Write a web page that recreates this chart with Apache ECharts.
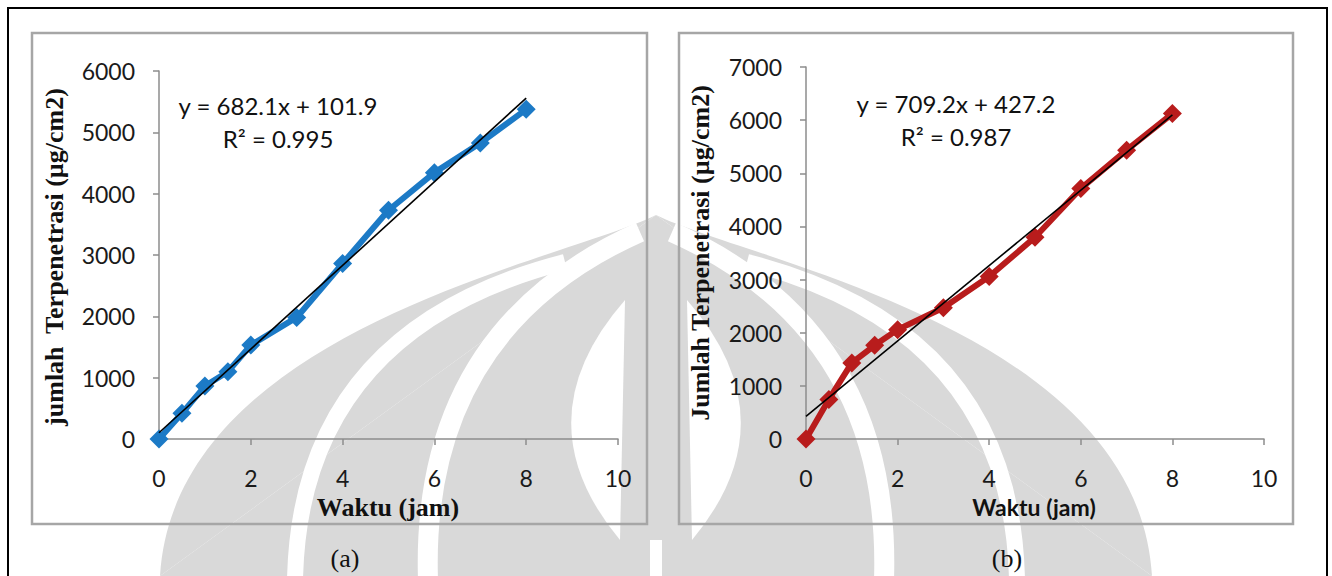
<!DOCTYPE html>
<html>
<head>
<meta charset="utf-8">
<script src="https://cdn.jsdelivr.net/npm/echarts@6/dist/echarts.min.js"></script>
<style>
  html, body { margin: 0; padding: 0; background: #fff; }
  #chart { width: 1332px; height: 576px; }
</style>
</head>
<body>
<div id="chart"></div>
<script>
// data
const waktu = [0, 0.5, 1, 1.5, 2, 3, 4, 5, 6, 7, 8];
const penetrasiA = [0, 418, 863, 1097, 1531, 1982, 2861, 3730, 4343, 4826, 5375];
const penetrasiB = [0, 744, 1432, 1764, 2058, 2470, 3058, 3796, 4715, 5435, 6123];
// trend lines (Excel linear fit shown in the chart)
const fitA = { slope: 682.1, intercept: 101.9, r2: '0.995' };
const fitB = { slope: 709.2, intercept: 427.2, r2: '0.987' };
const xMax = 10, xStep = 2;
const yMaxA = 6000, yMaxB = 7000, yStep = 1000;

const blue = '#1c7ac6';
const red = '#b81c1c';
const axisGray = '#8c8c8c';
const tickFont = 'Lato';

function pairs(xs, ys) {
  return xs.map((x, i) => [x, ys[i]]);
}
function trend(fit) {
  const x0 = waktu[0], x1 = waktu[waktu.length - 1];
  return [[x0, fit.slope * x0 + fit.intercept], [x1, fit.slope * x1 + fit.intercept]];
}

function xAxisCfg(gridIndex) {
  return {
    type: 'value', gridIndex: gridIndex, min: 0, max: xMax, interval: xStep,
    axisLine: { onZero: false, lineStyle: { color: axisGray, width: 1.5 } },
    axisTick: { show: true, length: 6, lineStyle: { color: axisGray, width: 1.5 } },
    axisLabel: { margin: 29, color: '#1a1a1a', fontFamily: tickFont, fontSize: 23, lineHeight: 20,
      formatter: v => String(v) },
    splitLine: { show: false }
  };
}
function yAxisCfg(gridIndex, max) {
  return {
    type: 'value', gridIndex: gridIndex, min: 0, max: max, interval: yStep,
    axisLine: { show: true, lineStyle: { color: axisGray, width: 1.5 } },
    axisTick: { show: true, length: 6, lineStyle: { color: axisGray, width: 1.5 } },
    axisLabel: { margin: 24, color: '#1a1a1a', fontFamily: tickFont, fontSize: 23,
      formatter: v => String(v) },
    splitLine: { show: false }
  };
}
function dataSeries(idx, values, color) {
  return {
    type: 'line', xAxisIndex: idx, yAxisIndex: idx,
    data: pairs(waktu, values),
    symbol: 'diamond', symbolSize: 19,
    lineStyle: { color: color, width: 6 },
    itemStyle: { color: color },
    z: 3
  };
}
function trendSeries(idx, fit) {
  return {
    type: 'line', xAxisIndex: idx, yAxisIndex: idx,
    data: trend(fit), symbol: 'none',
    lineStyle: { color: '#000', width: 1.6 },
    z: 4
  };
}
function txt(x, y, text, font, extra) {
  return Object.assign({
    type: 'text', x: x, y: y, z: 10,
    style: { text: text, font: font, fill: '#111', textAlign: 'center', textVerticalAlign: 'middle' }
  }, extra || {});
}
function curve(x1, y1, cx, cy, x2, y2, style) {
  return { type: 'bezierCurve', z: -9, shape: { x1: x1, y1: y1, cpx1: cx, cpy1: cy, x2: x2, y2: y2 }, style: style };
}

// faint background watermark
const wm = '#d9d9d9';
const strokeW = w => ({ fill: null, stroke: '#fff', lineWidth: w });
const watermark = [
  { type: 'polygon', z: -10, shape: { points: [[656, 215], [160, 576], [1152, 576]] }, style: { fill: wm } },
  { type: 'bezierCurve', z: -10, shape: { x1: 656, y1: 215, cpx1: 560, cpy1: 262, cpx2: 175, cpy2: 330, x2: 160, y2: 576 }, style: { fill: wm, stroke: null } },
  { type: 'bezierCurve', z: -10, shape: { x1: 656, y1: 215, cpx1: 752, cpy1: 262, cpx2: 1137, cpy2: 330, x2: 1152, y2: 576 }, style: { fill: wm, stroke: null } },
  curve(565, 262, 300, 330, 295, 580, strokeW(16)),
  curve(640, 232, 420, 330, 428, 580, strokeW(20)),
  curve(747, 262, 1012, 330, 1017, 580, strokeW(16)),
  curve(672, 232, 892, 330, 884, 580, strokeW(20)),
  curve(625, 300, 520, 420, 620, 540, { fill: '#fff', stroke: null }),
  curve(687, 300, 792, 420, 692, 540, { fill: '#fff', stroke: null }),
  { type: 'rect', z: -9, shape: { x: 650, y: 540, width: 12, height: 40 }, style: { fill: '#fff' } }
];

const frames = [
  { type: 'rect', z: 1, shape: { x: 8, y: 8, width: 1319, height: 580 }, style: { fill: null, stroke: '#000', lineWidth: 2 } },
  { type: 'rect', z: 1, shape: { x: 32, y: 33, width: 615, height: 491 }, style: { fill: null, stroke: '#a6a6a6', lineWidth: 2.5 } },
  { type: 'rect', z: 1, shape: { x: 679, y: 33, width: 614, height: 491 }, style: { fill: null, stroke: '#a6a6a6', lineWidth: 2.5 } }
];

const labels = [
  txt(278, 105, 'y = ' + fitA.slope + 'x + ' + fitA.intercept, '24px Lato'),
  txt(278, 138, 'R² = ' + fitA.r2, '24px Lato'),
  txt(956, 103, 'y = ' + fitB.slope + 'x + ' + fitB.intercept, '24px Lato'),
  txt(956, 136, 'R² = ' + fitB.r2, '24px Lato'),
  txt(54, 257, 'jumlah  Terpenetrasi (µg/cm2)', 'bold 26px "Liberation Serif"', { rotation: Math.PI / 2 }),
  txt(700, 253, 'Jumlah Terpenetrasi (µg/cm2)', 'bold 26px "Liberation Serif"', { rotation: Math.PI / 2 }),
  txt(388, 507, 'Waktu (jam)', 'bold 26px "Liberation Serif"'),
  txt(1034, 507, 'Waktu (jam)', 'bold 23px Lato'),
  txt(345, 558, '(a)', '26px "Liberation Serif"'),
  txt(1007, 558, '(b)', '26px "Liberation Serif"')
];

const myCharts = echarts.init(document.getElementById('chart'), null, { renderer: 'svg' });
const option = {
  animation: false,
  backgroundColor: '#fff',
  grid: [
    { left: 159, top: 71, width: 459, height: 368 },
    { left: 806, top: 67, width: 458, height: 372 }
  ],
  xAxis: [xAxisCfg(0), xAxisCfg(1)],
  yAxis: [yAxisCfg(0, yMaxA), yAxisCfg(1, yMaxB)],
  series: [
    dataSeries(0, penetrasiA, blue),
    trendSeries(0, fitA),
    dataSeries(1, penetrasiB, red),
    trendSeries(1, fitB)
  ],
  graphic: { elements: watermark.concat(frames, labels) }
};
myCharts.setOption(option);
</script>
</body>
</html>
